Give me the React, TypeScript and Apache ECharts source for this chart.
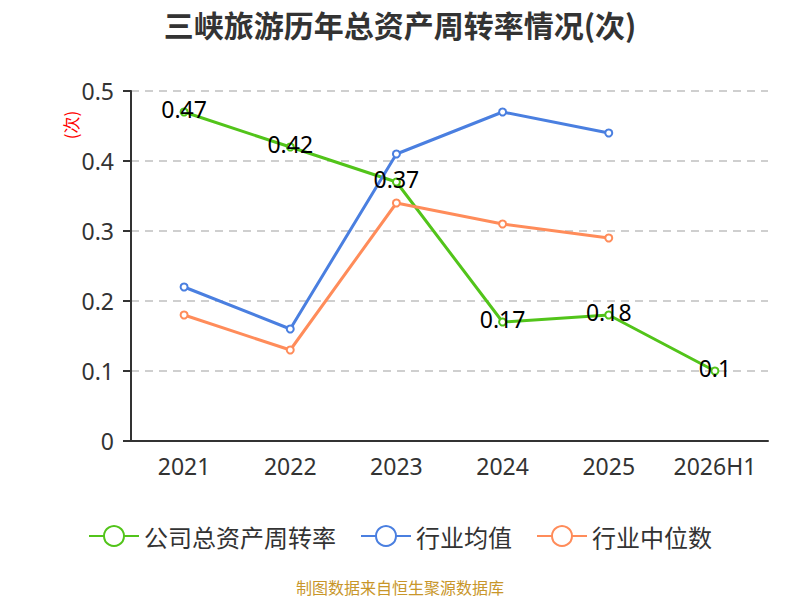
import React, { useEffect, useRef } from "react";
import * as echarts from "echarts";

const categories = ["2021", "2022", "2023", "2024", "2025", "2026H1"];
const companyValues = [0.47, 0.42, 0.37, 0.17, 0.18, 0.1];
const industryAvg = [0.22, 0.16, 0.41, 0.47, 0.44, null];
const industryMedian = [0.18, 0.13, 0.34, 0.31, 0.29, null];

export default function App() {
  const ref = useRef<HTMLDivElement>(null);
  useEffect(() => {
    if (!ref.current) return;
    document.body.style.margin = "0";
    const chart = echarts.init(ref.current, undefined, { renderer: "svg" });
    const mk = (name: string, data: any[], color: string, label: boolean) => ({
      name,
      type: "line",
      data,
      symbol: "emptyCircle",
      symbolSize: 7,
      lineStyle: { width: 3, color },
      itemStyle: { color, borderWidth: 1.5 },
      label: label
        ? {
            show: true,
            position: "inside",
            offset: [0, -3],
            color: "#000",
            fontSize: 23,
            fontFamily: "Noto Sans",
          }
        : { show: false },
    });
    chart.setOption({
      animation: false,
      title: {
        text: "三峡旅游历年总资产周转率情况(次)",
        left: "center",
        top: 4,
        textStyle: { fontSize: 30, fontWeight: "bold", color: "#333", fontFamily: "Noto Sans CJK SC" },
      },
      grid: { left: 131, right: 32, top: 91, bottom: 159 },
      legend: {
        bottom: 47,
        left: "center",
        itemWidth: 50,
        itemHeight: 25,
        itemGap: 24,
        textStyle: { fontSize: 24, color: "#333", fontFamily: "Noto Sans CJK SC" },
        data: ["公司总资产周转率", "行业均值", "行业中位数"],
      },
      graphic: [
        {
          type: "text",
          left: "center",
          top: 579,
          style: { text: "制图数据来自恒生聚源数据库", fill: "#c8962a", fontSize: 16, fontFamily: "Noto Sans CJK SC" },
        },
        {
          type: "text",
          x: 70,
          y: 125,
          rotation: Math.PI / 2,
          style: {
            text: "(次)",
            fill: "#ff0000",
            fontSize: 17,
            fontFamily: "Noto Sans CJK SC",
            align: "center",
            verticalAlign: "middle",
          },
        },
      ],
      xAxis: {
        type: "category",
        data: categories,
        boundaryGap: true,
        axisLine: { lineStyle: { color: "#333", width: 2 } },
        axisTick: { length: 8, lineStyle: { color: "#333", width: 2 } },
        axisLabel: { interval: 0, fontSize: 23, color: "#333", margin: 13, fontFamily: "Noto Sans" },
      },
      yAxis: {
        type: "value",
        min: 0,
        max: 0.5,
        interval: 0.1,
        axisLine: { show: true, lineStyle: { color: "#333", width: 2 } },
        axisTick: { show: true, length: 8, lineStyle: { color: "#333", width: 2 } },
        axisLabel: {
          fontSize: 23,
          color: "#333",
          margin: 17,
          fontFamily: "Noto Sans",
          formatter: (v: number) => String(Math.round(v * 10) / 10),
        },
        splitLine: { lineStyle: { color: "#c0c0c0", type: [8, 6], width: 1.5 } },
      },
      series: [
        mk("公司总资产周转率", companyValues, "#52c41a", true),
        mk("行业均值", industryAvg, "#4a7fe0", false),
        mk("行业中位数", industryMedian, "#ff8c5a", false),
      ],
    });
    return () => chart.dispose();
  }, []);
  return <div ref={ref} style={{ width: 800, height: 600 }} />;
}
